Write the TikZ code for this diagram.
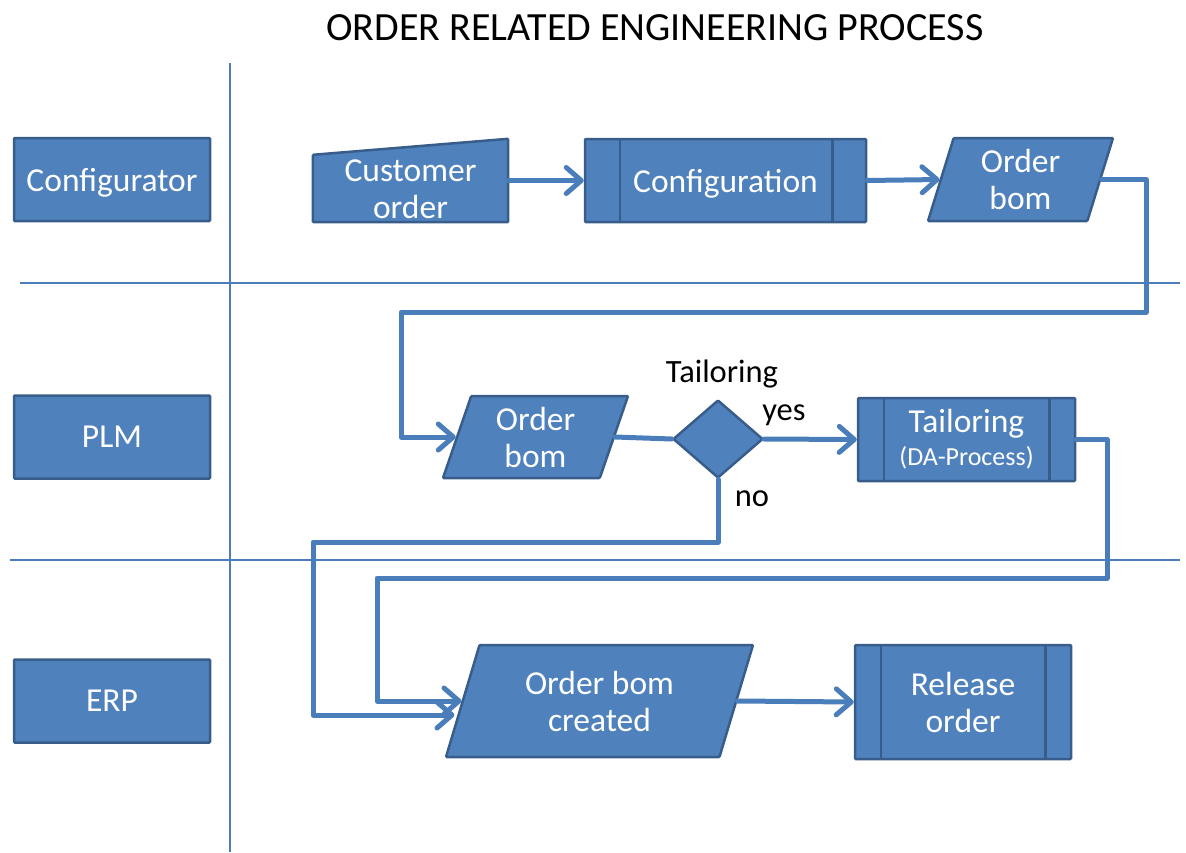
\documentclass[tikz,border=0pt]{standalone}
\usepackage{fontspec}
\setmainfont{Carlito}
\usetikzlibrary{shapes.geometric,arrows.meta,backgrounds,calc}
\definecolor{boxfill}{HTML}{4F81BD}
\definecolor{boxline}{HTML}{385D8A}
\definecolor{flow}{HTML}{4A7EBB}
\begin{document}
\begin{tikzpicture}[x=1pt,y=-1pt,
  every node/.style={font=\fontsize{33.5}{37}\selectfont},
  shapebox/.style={fill=boxfill, draw=boxline, line width=2.5pt, text=white,
    align=center, inner sep=0pt, rounded corners=1pt},
  lanebox/.style={shapebox, minimum width=196pt, minimum height=83pt},
  procbox/.style={shapebox, minimum height=83pt},
  iobox/.style={shapebox, trapezium, trapezium stretches body},
  decision/.style={shapebox, diamond, minimum width=90pt, minimum height=78pt},
  sidebar/.style={draw=boxline, line width=2.5pt},
  flowline/.style={draw=flow, line width=5pt, line join=round, line cap=round},
  flowarrow/.style={flowline, -{Straight Barb[length=15pt,width=26pt,line cap=round,line join=round]}},
  lanesep/.style={draw=flow, line width=1.3pt},
  lbl/.style={text=black, inner sep=0pt, font=\fontsize{32.5}{38}\selectfont}]

\useasboundingbox (0,0) rectangle (1186,852);

% title
\node[lbl, font=\fontsize{40}{46}\selectfont] (title) at (655,28) {ORDER RELATED ENGINEERING PROCESS};

% swimlane separators
\draw[lanesep] (230,63) -- (230,852);
\draw[lanesep] (20,283) -- (1180,283);
\draw[lanesep] (10,560) -- (1180,560);

% lane headers
\node[lanebox, text depth=0pt] (cfg) at (112,179.5) {Configurator};
\node[lanebox] (plm) at (112,437) {PLM};
\node[lanebox] (erp) at (112,701) {ERP};

% configurator lane
\node[minimum width=195pt, minimum height=83pt, inner sep=0pt,
  label={[text=white, align=center, yshift=-9pt, font=\fontsize{33.5}{37}\selectfont]center:Customer\\order}]
  (cust) at (410.5,180.5) {};
\begin{scope}[on background layer]
  \draw[shapebox] (cust.south west) -- (cust.south east) -- (cust.north east)
    -- ([yshift=-16pt]cust.north west) -- cycle;
\end{scope}

\node[procbox, minimum width=281pt, text depth=0pt] (conf) at (725.5,180.5) {Configuration};
\draw[sidebar] ([xshift=36pt]conf.north west) -- ([xshift=36pt]conf.south west);
\draw[sidebar] ([xshift=-35pt]conf.north east) -- ([xshift=-35pt]conf.south east);

\node[iobox, minimum width=185pt, minimum height=83pt,
  trapezium left angle=67, trapezium right angle=113] (ob1) at (1020.5,179.5) {Order\\bom};

% PLM lane
\node[iobox, minimum width=185pt, minimum height=82pt,
  trapezium left angle=65, trapezium right angle=115] (ob2) at (535.5,437) {Order\\bom};
\node[decision] (dec) at (718,439) {};
\node[lbl] (declbl) at (722,374) {Tailoring};
\node[lbl] (yes) at (784,415) {yes};
\node[lbl] (no) at (752,499) {no};

\node[procbox, minimum width=217pt] (tail) at (966.5,439.5)
  {Tailoring\\[-4pt]{\fontsize{26}{30}\selectfont (DA-Process)}};
\draw[sidebar] ([xshift=27pt]tail.north west) -- ([xshift=27pt]tail.south west);
\draw[sidebar] ([xshift=-27pt]tail.north east) -- ([xshift=-27pt]tail.south east);

% ERP lane
\node[iobox, minimum width=307pt, minimum height=112pt,
  trapezium left angle=61, trapezium right angle=119] (obc) at (599.5,701) {Order bom\\created};
\node[procbox, minimum width=216pt, minimum height=114pt] (rel) at (963,702) {Release\\order};
\draw[sidebar] ([xshift=27pt]rel.north west) -- ([xshift=27pt]rel.south west);
\draw[sidebar] ([xshift=-27pt]rel.north east) -- ([xshift=-27pt]rel.south east);

% routing points
\coordinate (r1) at (1146,312);
\coordinate (l1) at (401,312);
\coordinate (r2) at (1107,578);
\coordinate (l2) at (377,578);
\coordinate (n1) at (313,542);
\coordinate (obcin) at ($(obc.left side)+(-7,14)$);

% flows
\draw[flowarrow] (cust.east) -- (conf.west);
\draw[flowarrow] (conf.east) -- (ob1.left side);
\draw[flowarrow] (ob1.right side) -| (r1) -- (l1) |- (ob2.left side);
\draw[flowline] (ob2.right side) -- (dec.west);
\draw[flowarrow] (dec.east) -- (tail.west);
\draw[flowarrow] (tail.east) -| (r2) -- (l2) |- (obc.left side);
\draw[flowarrow] (dec.south) |- (n1) |- (obcin);
\draw[flowarrow] (obc.right side) -- (rel.west);
\end{tikzpicture}
\end{document}
